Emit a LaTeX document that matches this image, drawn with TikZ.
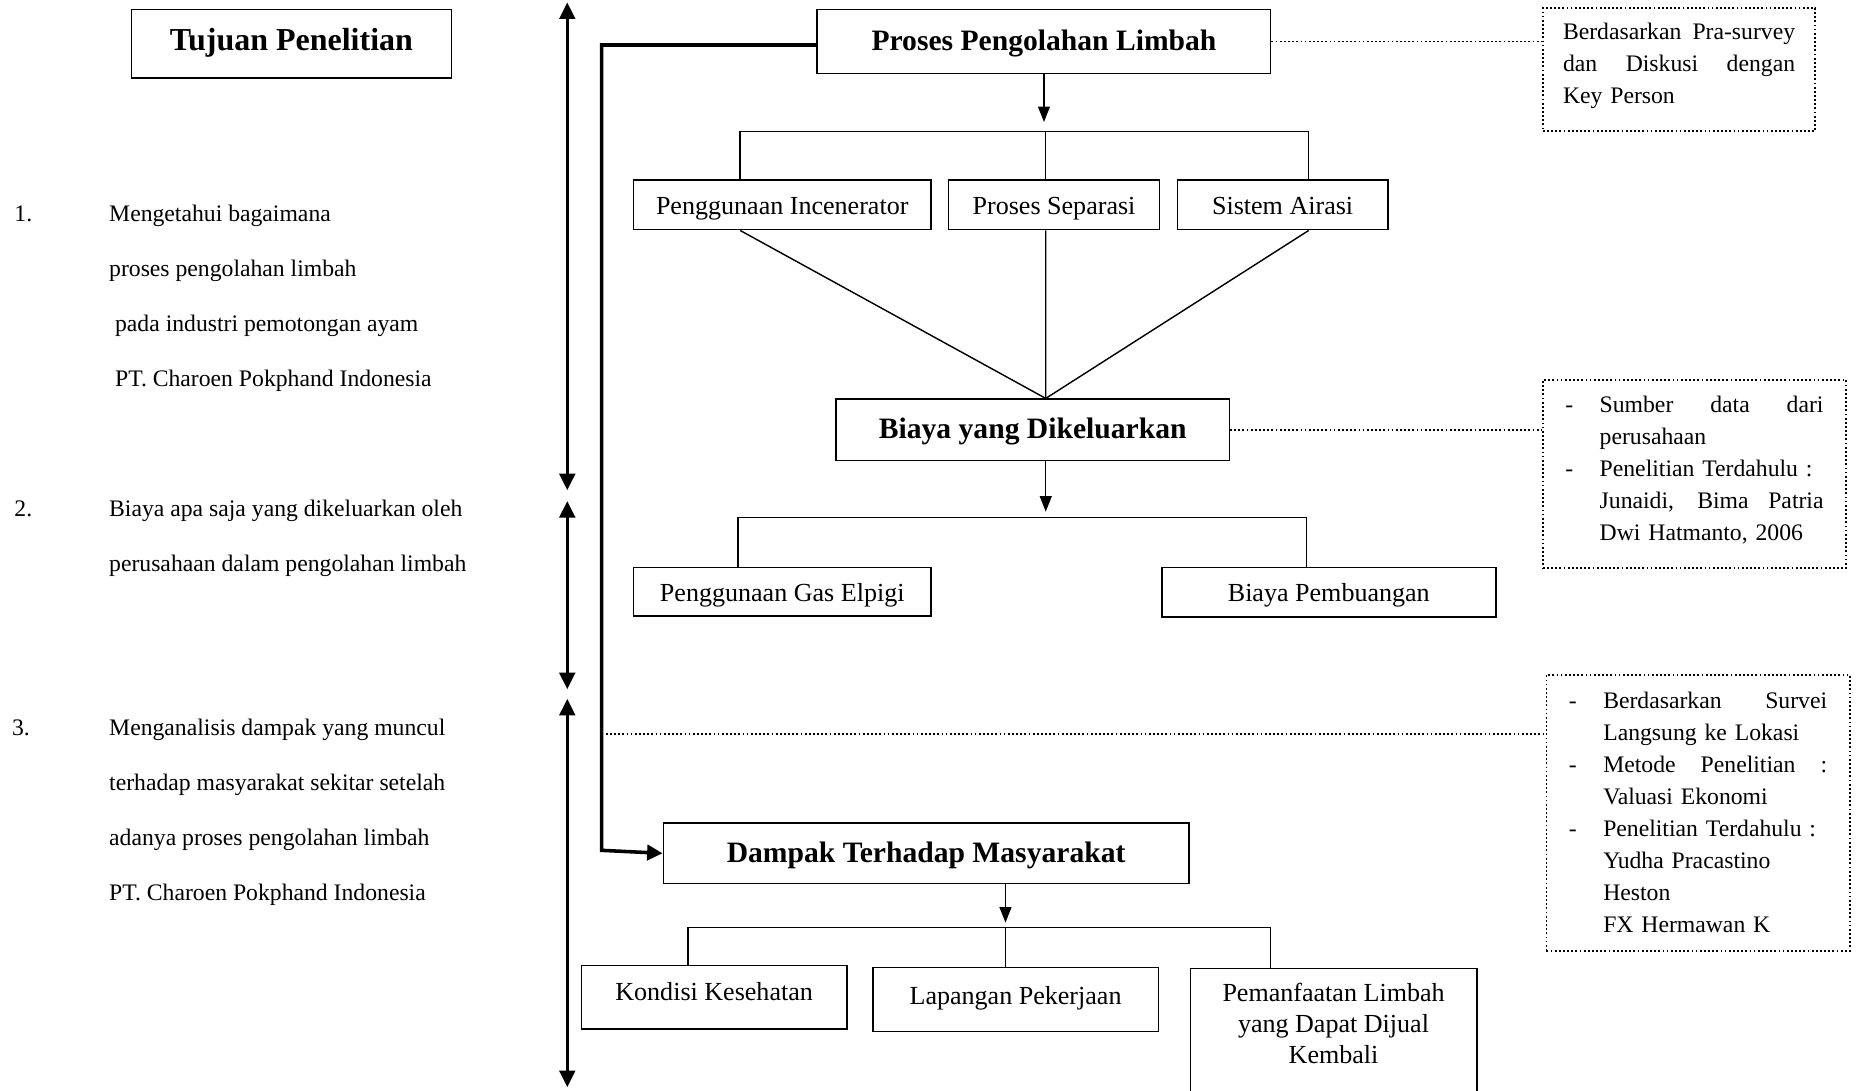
\documentclass[tikz,border=0pt]{standalone}
\usepackage{fontspec}
\setmainfont{Liberation Serif}
\usetikzlibrary{arrows.meta,positioning}
\newcommand{\spread}[2]{\makebox[#1][s]{\spaceskip=0pt\relax #2}}

\begin{document}
\begin{tikzpicture}[x=1pt,y=-1pt,
  box/.style={draw,line width=1.2pt,inner sep=0pt,text height=18pt,text depth=2pt,font=\fontsize{22}{26}\selectfont},
  headbox/.style={box,text height=19pt,text depth=4pt,font=\fontsize{25}{30}\selectfont\bfseries},
  note/.style={draw,dotted,line width=1.5pt,anchor=north west,inner ysep=0pt,align=left,font=\fontsize{20}{27}\selectfont},
  aim/.style={anchor=north west,inner sep=0pt,align=left,font=\fontsize{20}{46.5}\selectfont},
  link/.style={line width=1.2pt},
  flow/.style={link,-{Triangle[width=10pt,length=13pt]}},
  bigarrow/.style={line width=3pt,{Triangle[width=13pt,length=14pt]}-{Triangle[width=13pt,length=14pt]}},
  noteline/.style={dotted,line width=1.5pt}]
\useasboundingbox (0,0) rectangle (1568,921);

% left column
\node[headbox,text height=17pt,text depth=6pt,font=\fontsize{27}{32}\selectfont\bfseries,minimum width=270,minimum height=58] (tujuan) at (246,37) {Tujuan Penelitian};
\node[aim] (aim1) at (12,173) {\makebox[80pt][l]{1.}Mengetahui bagaimana\\
  \hspace*{80pt}proses pengolahan limbah\\
  \hspace*{85pt}pada industri pemotongan ayam\\
  \hspace*{85pt}PT. Charoen Pokphand Indonesia};
\node[aim] (aim2) at (12,422) {\makebox[80pt][l]{2.}Biaya apa saja yang dikeluarkan oleh\\
  \hspace*{80pt}perusahaan dalam pengolahan limbah};
\node[aim] (aim3) at (10,607) {\makebox[82pt][l]{3.}Menganalisis dampak yang muncul\\
  \hspace*{82pt}terhadap masyarakat sekitar setelah\\
  \hspace*{82pt}adanya proses pengolahan limbah\\
  \hspace*{82pt}PT. Charoen Pokphand Indonesia};

\coordinate (t1a) at (479,2);
\coordinate (t1b) at (479,414);
\coordinate (t2a) at (479,423);
\coordinate (t2b) at (479,582);
\coordinate (t3a) at (479,590);
\coordinate (t3b) at (479,918);
\foreach \a/\b in {t1a/t1b,t2a/t2b,t3a/t3b}
  \draw[bigarrow] (\a) -- (\b);

% boxes
\node[headbox,minimum width=383,minimum height=54] (proses) at (881.5,35) {Proses Pengolahan Limbah};
\node[box,minimum width=251,minimum height=42] (incin) at (660.5,173) {Penggunaan Incenerator};
\node[box,minimum width=178,minimum height=42] (separ) at (890,173) {Proses Separasi};
\node[box,minimum width=178,minimum height=42] (airasi) at (1083,173) {Sistem Airasi};
\node[headbox,minimum width=332,minimum height=52] (biaya) at (872,363) {Biaya yang Dikeluarkan};
\node[box,minimum width=251,minimum height=41] (elpigi) at (660.5,499.5) {Penggunaan Gas Elpigi};
\node[box,minimum width=282,minimum height=42] (buang) at (1122,500) {Biaya Pembuangan};
\node[headbox,minimum width=444,minimum height=51] (dampak) at (782,720.5) {Dampak Terhadap Masyarakat};
\node[box,text height=15pt,text depth=10pt,minimum width=224,minimum height=54] (kondisi) at (603,842) {Kondisi Kesehatan};
\node[box,text height=15pt,text depth=7pt,minimum width=241,minimum height=54] (lapangan) at (857.5,844) {Lapangan Pekerjaan};
\node[box,minimum width=242,minimum height=130,anchor=north] (manfaat) at (1126,817) {};
\node[below=10pt of manfaat.north,align=center,font=\fontsize{22}{26}\selectfont] (manfaattxt) {Pemanfaatan Limbah\\yang Dapat Dijual\\Kembali};

% notes
\node[note,inner xsep=17pt,text width=196pt,minimum height=104] (note1) at (1302,6)
  {\spread{196pt}{Berdasarkan Pra-survey}\\
   \spread{196pt}{dan Diskusi dengan}\\
   Key Person\rule[-10pt]{0pt}{10pt}};
\node[note,inner xsep=19pt,text width=218pt,minimum height=159] (note2) at (1302,320)
  {\makebox[29pt][l]{-}\spread{189pt}{Sumber data dari}\\
   \hspace*{29pt}perusahaan\\
   \makebox[29pt][l]{-}Penelitian Terdahulu :\\
   \hspace*{29pt}\spread{189pt}{Junaidi, Bima Patria}\\
   \hspace*{29pt}Dwi Hatmanto, 2006\rule[-9pt]{0pt}{9pt}};
\node[note,inner xsep=19pt,text width=218pt,minimum height=233] (note3) at (1305,569)
  {\makebox[29pt][l]{-}\spread{189pt}{Berdasarkan Survei}\\
   \hspace*{29pt}Langsung ke Lokasi\\
   \makebox[29pt][l]{-}\spread{189pt}{Metode Penelitian :}\\
   \hspace*{29pt}Valuasi Ekonomi\\
   \makebox[29pt][l]{-}Penelitian Terdahulu :\\
   \hspace*{29pt}Yudha Pracastino\\
   \hspace*{29pt}Heston\\
   \hspace*{29pt}FX Hermawan K};

% connectors
\coordinate (fork1) at (883,111);
\draw[flow,shorten >=8pt] (proses.south) -- (proses.south |- fork1);
\draw[link] ([xshift=-35.5]incin.north) |- (fork1) -| ([xshift=22]airasi.north);
\draw[link] (fork1) -- (fork1 |- separ.north);
\coordinate (meet) at ([xshift=11]biaya.north);
\draw[link] ([xshift=-35.5]incin.south) -- (meet) -- (fork1 |- separ.south);
\draw[link] ([xshift=22]airasi.south) -- (meet);

\coordinate (fork2) at (883,437);
\draw[flow,shorten >=5pt] ([xshift=11]biaya.south) -- (fork2);
\draw[link] ([xshift=-37.5]elpigi.north) |- (fork2) -| ([xshift=-19]buang.north);

\coordinate (fork3) at (849,783);
\draw[flow,shorten >=4pt] ([xshift=67]dampak.south) -- (fork3);
\draw[link] ([xshift=-22]kondisi.north) |- (fork3) -| ([xshift=-53]manfaat.north);
\draw[link] (fork3) -- (fork3 |- lapangan.north);

\coordinate (spine) at (508,718);
\draw[line width=3pt,-{Triangle[width=13pt,length=13pt]}] ([yshift=-3pt]proses.west) -| (spine) -- (dampak.west);

\draw[noteline] (proses.east) -- (proses.east -| note1.west);
\draw[noteline] (biaya.east) -- (biaya.east -| note2.west);
\coordinate (tap) at (508,620);
\draw[noteline] (tap) -- (tap -| note3.west);
\end{tikzpicture}
\end{document}
